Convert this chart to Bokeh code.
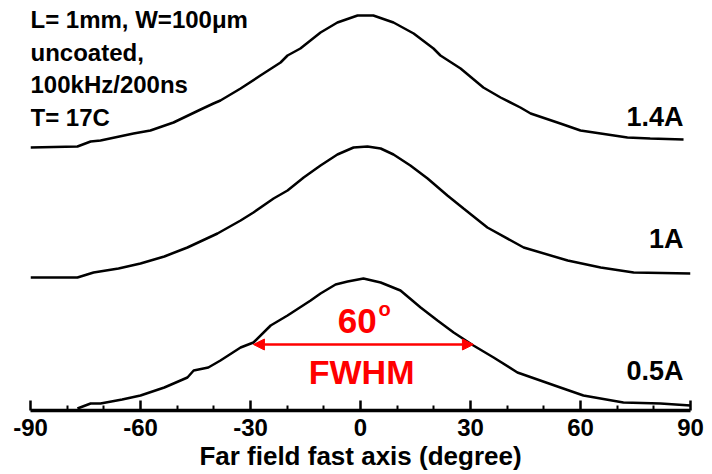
from bokeh.plotting import figure
from bokeh.models import Range1d, FixedTicker, Label, Arrow, NormalHead
from bokeh.embed import file_html
from bokeh.resources import INLINE

# ---- data (offset traces, arbitrary units) ----
angle_05 = [-77.2, -73.6, -70.9, -65, -60, -53.5, -47.2, -45.5, -41.5, -38.2, -32.7, -29.2,
            -24.5, -19.9, -13.6, -10.9, -6.8, -3.5, 0.8, 5.5, 10.9, 16.4, 21, 25.4, 30.8, 36.3,
            42.8, 54.5, 60.8, 71.7, 81.8, 90]
sig_05 = [0, 5, 5, 9, 13, 21, 31, 38, 41, 48, 61, 66, 83, 93, 108, 115, 124, 127, 130, 126,
          118, 101, 88, 76, 63, 51, 36, 21, 13, 6, 5, 3]

angle_10 = [-90, -77.2, -72.8, -66, -60, -53.5, -47.2, -39, -32.7, -29.2, -23.7, -19.9, -15.5,
            -10.9, -6.3, -1.9, 1.9, 5.5, 9, 13.6, 18.3, 23.7, 28.1, 34.6, 44.5, 56.5, 65.5,
            74.5, 90]
sig_10 = [131, 131, 136, 140, 145, 152, 161, 175, 188, 196, 210, 218, 231, 243, 254, 261, 262,
          260, 254, 243, 230, 213, 200, 181, 161, 148, 141, 136, 135]

angle_14 = [-90, -77.2, -73.6, -70.9, -61.9, -57.3, -51, -43.6, -40.1, -38.2, -32.7, -27.3,
            -21.8, -19.9, -16.4, -10.9, -6.3, -0.8, 3.5, 9, 14.5, 19.9, 21.8, 27.3, 33.5, 38.2,
            43.6, 46.4, 54.5, 60, 65.5, 72.8, 79, 88.1]
sig_14 = [261, 262, 267, 268, 275, 278, 286, 299, 305, 308, 320, 333, 346, 353, 360, 376, 386,
          393, 393, 386, 375, 360, 353, 340, 321, 311, 301, 295, 285, 278, 275, 271, 270, 269]

curve_labels = ["0.5A", "1A", "1.4A"]
info_lines = ["L= 1mm, W=100\u03bcm", "uncoated,", "100kHz/200ns", "T= 17C"]
major_ticks = [-90, -60, -30, 0, 30, 60, 90]
tick_labels = ["-90", "-60", "-30", "0", "30", "60", "90"]
minor_ticks = [-80, -70, -50, -40, -20, -10, 10, 20, 40, 50, 70, 80]
fwhm_left, fwhm_right, fwhm_level = -29.2, 30.8, 64
fwhm_value = "60"

FONT = "Liberation Sans"

p = figure(width=712, height=474, output_backend="svg", toolbar_location=None,
           x_range=Range1d(-90, 90), y_range=Range1d(-2, 408),
           y_axis_location=None, min_border_left=30, min_border_right=22,
           min_border_top=0, min_border_bottom=64, background_fill_color="white",
           border_fill_color="white")
p.outline_line_color = None
p.grid.visible = False

for xs, ys in [(angle_05, sig_05), (angle_10, sig_10), (angle_14, sig_14)]:
    p.line(xs, ys, line_color="black", line_width=2.5)

ax = p.xaxis[0]
ax.ticker = FixedTicker(ticks=major_ticks, minor_ticks=minor_ticks)
ax.major_label_overrides = {t: s for t, s in zip(major_ticks, tick_labels)}
ax.axis_line_width = 3.5
ax.axis_line_color = "black"
ax.major_tick_in = 10
ax.major_tick_out = 0
ax.minor_tick_in = 5
ax.minor_tick_out = 0
ax.major_tick_line_width = 2.5
ax.minor_tick_line_width = 2
ax.major_label_text_font = FONT
ax.major_label_text_font_style = "bold"
ax.major_label_text_font_size = "24px"
ax.major_label_text_color = "black"
ax.major_label_standoff = 8
ax.axis_label = "Far field fast axis (degree)"
ax.axis_label_text_font = FONT
ax.axis_label_text_font_style = "bold"
ax.axis_label_text_font_size = "26px"
ax.axis_label_text_color = "black"
ax.axis_label_standoff = 2

# info text (top-left)
for i, t in enumerate(info_lines):
    p.add_layout(Label(x=-90, y=389 - 32.7 * i, text=t, text_font=FONT,
                       text_font_style="bold", text_font_size="24px",
                       text_baseline="alphabetic", text_align="left", text_color="black"))

# curve labels (right)
for t, yy in zip(curve_labels, [38, 170, 292]):
    p.add_layout(Label(x=88.1, y=yy, text=t, text_font=FONT, text_font_style="bold",
                       text_font_size="27px", text_baseline="alphabetic",
                       text_align="right", text_color="black"))

# FWHM annotation
red = "#FF0000"
p.add_layout(Arrow(x_start=fwhm_left, y_start=fwhm_level, x_end=fwhm_right, y_end=fwhm_level,
                   line_color=red, line_width=2.5,
                   start=NormalHead(size=11, fill_color=red, line_color=red),
                   end=NormalHead(size=11, fill_color=red, line_color=red)))
p.add_layout(Label(x=4.4, y=88, text=fwhm_value, text_font=FONT, text_font_style="bold",
                   text_font_size="35px", text_baseline="alphabetic", text_align="right",
                   text_color=red))
p.add_layout(Label(x=4.9, y=100, text="o", text_font=FONT, text_font_style="bold",
                   text_font_size="20px", text_baseline="alphabetic", text_align="left",
                   text_color=red))
p.add_layout(Label(x=0.3, y=37, text="FWHM", text_font=FONT, text_font_style="bold",
                   text_font_size="34px", text_baseline="alphabetic", text_align="center",
                   text_color=red))

open("out.html", "w").write(file_html(p, INLINE))
